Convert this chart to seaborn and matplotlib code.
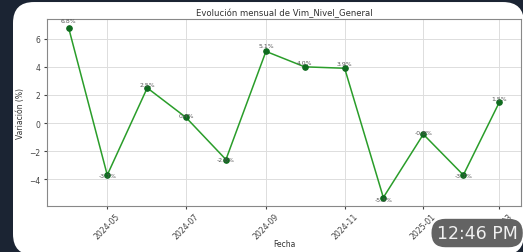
import pandas as pd
import matplotlib

matplotlib.use("Agg")
import matplotlib.pyplot as plt
import matplotlib.dates as mdates
import seaborn as sns
from matplotlib.patches import FancyBboxPatch

months = ["2024-04", "2024-05", "2024-06", "2024-07", "2024-08", "2024-09",
          "2024-10", "2024-11", "2024-12", "2025-01", "2025-02", "2025-03"]
variacion = [6.8, -3.7, 2.5, 0.4, -2.6, 5.1, 4.0, 3.9, -5.3, -0.8, -3.7, 1.5]
labels = ["6.8%", "-3.7%", "2.5%", "0.4%", "-2.6%", "5.1%",
          "4.0%", "3.9%", "-5.3%", "-0.8%", "-3.7%", "1.5%"]

df = pd.DataFrame({"Fecha": pd.to_datetime(months), "Variacion": variacion})

fig = plt.figure(figsize=(5.23, 2.53), dpi=100, facecolor="#1b2433")
# white card behind the chart (screenshot look)
card = FancyBboxPatch((13 / 523, -0.012), (524 - 13) / 523, 1.0, boxstyle="round,pad=0,rounding_size=0.04",
                      transform=fig.transFigure, facecolor="white", edgecolor="none",
                      mutation_aspect=523 / 253, zorder=-5)
fig.patches.append(card)

ax = fig.add_axes([47 / 523, 1 - 207 / 253, (521 - 47) / 523, (207 - 20) / 253])
ax.set_zorder(2)
ax.set_facecolor("white")
sns.lineplot(data=df, x="Fecha", y="Variacion", ax=ax, color="#2a9d2a", linewidth=1.1,
             marker="o", markersize=4, markerfacecolor="#0f6b1f", markeredgecolor="#0f6b1f")

for d, v, lab in zip(df["Fecha"], df["Variacion"], labels):
    ax.text(d, v * 1.05 + 0.14, lab, ha="center", va="center", fontsize=4.4, color="#555555")

ax.set_title("Evolución mensual de Vim_Nivel_General", fontsize=6.1, color="#333333", pad=3)
ax.set_xlabel("Fecha", fontsize=5.5, color="#333333", labelpad=-1)
ax.set_ylabel("Variación (%)", fontsize=5.5, color="#333333", labelpad=3)
ax.xaxis.set_major_locator(mdates.MonthLocator(bymonth=[1, 3, 5, 7, 9, 11]))
ax.xaxis.set_major_formatter(mdates.DateFormatter("%Y-%m"))
ax.tick_params(axis="x", labelsize=5.6, rotation=45, colors="#444444", length=2.5, pad=1.5)
ax.tick_params(axis="y", labelsize=5.5, colors="#444444", length=2.5, pad=2)
for lab in ax.get_xticklabels():
    lab.set_ha("center")
ax.grid(True, color="#dddddd", linewidth=0.7)
for s in ax.spines.values():
    s.set_color("#888888")
    s.set_linewidth(0.8)

fig.text(0.835, 0.075, "12:46 PM", fontsize=12.5, color="#f0f0f0", va="center", ha="left",
         zorder=10,
         bbox=dict(boxstyle="round,pad=0.3,rounding_size=0.8", facecolor="#636363",
                   edgecolor="none"))

fig.savefig("out.png", dpi=100, facecolor=fig.get_facecolor())
